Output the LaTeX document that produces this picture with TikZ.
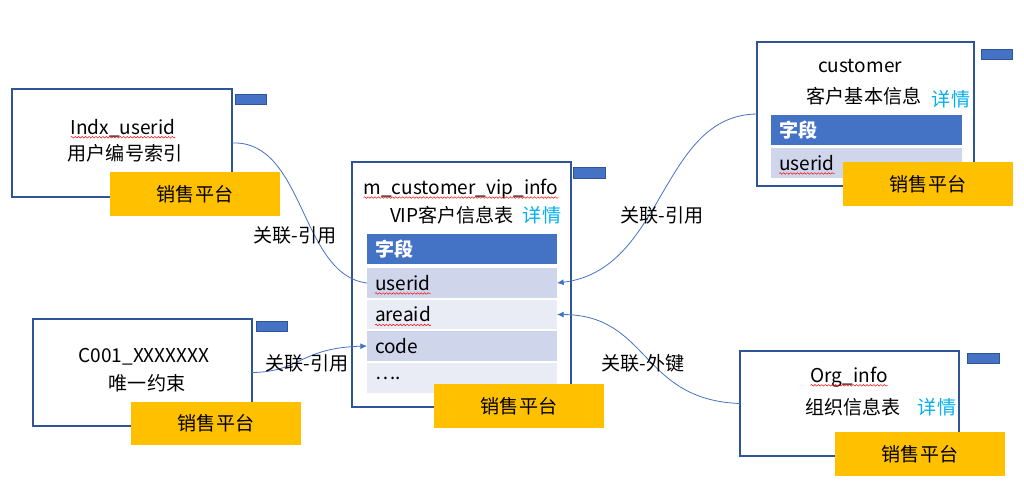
\documentclass[tikz,border=0pt]{standalone}
\usepackage{fontspec}
\setmainfont{Noto Sans CJK SC}
\usetikzlibrary{arrows.meta,decorations.pathmorphing,calc,fit}
\definecolor{boxline}{HTML}{2F5597}
\definecolor{accent}{HTML}{4472C4}
\definecolor{rowA}{HTML}{CFD5EA}
\definecolor{rowB}{HTML}{E9EBF5}
\definecolor{gold}{HTML}{FFC000}
\definecolor{detail}{HTML}{00B0F0}
\begin{document}
\begin{tikzpicture}[x=0.75pt,y=-0.75pt,
  every node/.style={font=\fontsize{14.3}{17}\selectfont, inner sep=0pt, outer sep=0pt},
  tablebox/.style={draw=boxline, line width=0.8pt, fill=white},
  tagbox/.style={fill=accent, draw=boxline, line width=0.4pt},
  platform/.style={fill=gold},
  headrow/.style={fill=accent},
  rowa/.style={fill=rowA},
  rowb/.style={fill=rowB},
  headtext/.style={text=white, font=\fontsize{14.3}{17}\selectfont\bfseries},
  detailtext/.style={text=detail},
  link/.style={draw=accent, line width=0.6pt},
  arrowlink/.style={link, -{Latex[length=5pt,width=4.5pt]}},
  squig/.style={draw=red, line width=0.35pt, decorate, decoration={snake, amplitude=0.6pt, segment length=2.6pt}}
]
\useasboundingbox (0,0) rectangle (1024,503);

% ---------- Indx_userid ----------
\node[tablebox, fit={(12,89)(232,197)}] (idx) {};
\node[tagbox, fit={(235,94)(266,104)}] (idxtag) {};
\node (idxname) at (123,128) {Indx\_userid};
\node (idxdesc) at (125,153) {用户编号索引};
\node[platform, fit={(110,172)(280,216)}] (idxplat) {};
\node at (idxplat.center) (idxplattext) {销售平台};

% ---------- central table ----------
\node[tablebox, fit={(352,162)(571,407)}] (main) {};
\node[tagbox, fit={(573,167)(605,178)}] (maintag) {};
\node (mainname) at (461,189) {m\_customer\_vip\_info};
\node (maindesc) at (452,215) {VIP客户信息表};
\node[detailtext] (maindetail) at (542,215) {详情};
\node[headrow, fit={(367,234)(557,264)}] (mhead) {};
\node[headtext, anchor=west] (mheadtext) at ($(mhead.west)+(8,0)$) {字段};
\node[rowa, fit={(367,268)(557,298)}] (muserid) {};
\node[anchor=west] (museridtext) at ($(muserid.west)+(8,0)$) {userid};
\node[rowb, fit={(367,300)(557,329)}] (mareaid) {};
\node[anchor=west] (mareaidtext) at ($(mareaid.west)+(8,0)$) {areaid};
\node[rowa, fit={(367,331)(557,361)}] (mcode) {};
\node[anchor=west] (mcodetext) at ($(mcode.west)+(8,0)$) {code};
\node[rowb, fit={(367,363)(557,393)}] (mmore) {};
\node[anchor=west] (mmoretext) at ($(mmore.west)+(8,0)$) {….};
\node[platform, fit={(434,384)(604,428)}] (mainplat) {};
\node at (mainplat.center) (mainplattext) {销售平台};

% ---------- customer ----------
\node[tablebox, fit={(757,42)(974,186)}] (cust) {};
\node[tagbox, fit={(981,49)(1012,59)}] (custtag) {};
\node (custname) at (860,66) {customer};
\node (custdesc) at (864,96) {客户基本信息};
\node[detailtext] (custdetail) at (951,99) {详情};
\node[headrow, fit={(771,115)(962,145)}] (chead) {};
\node[headtext, anchor=west] (cheadtext) at ($(chead.west)+(8,0)$) {字段};
\node[rowa, fit={(771,148)(962,178)}] (cuserid) {};
\node[anchor=west] (cuseridtext) at ($(cuserid.west)+(8,0)$) {userid};
\node[platform, fit={(843,162)(1013,206)}] (custplat) {};
\node at (custplat.center) (custplattext) {销售平台};

% ---------- C001 ----------
\node[tablebox, fit={(33,319)(252,426)}] (cons) {};
\node[tagbox, fit={(256,321)(287,331)}] (constag) {};
\node (consname) at (144,357) {C001\_XXXXXXX};
\node (consdesc) at (147,383) {唯一约束};
\node[platform, fit={(131,402)(301,445)}] (consplat) {};
\node at (consplat.center) (consplattext) {销售平台};

% ---------- Org_info ----------
\node[tablebox, fit={(740,351)(959,456)}] (org) {};
\node[tagbox, fit={(967,353)(999,363)}] (orgtag) {};
\node (orgname) at (849,377) {Org\_info};
\node (orgdesc) at (853,407) {组织信息表};
\node[detailtext] (orgdetail) at (937,407) {详情};
\node[platform, fit={(835,432)(1005,476)}] (orgplat) {};
\node at (orgplat.center) (orgplattext) {销售平台};

% ---------- spell-check underlines ----------
\foreach \t in {idxname, mainname, museridtext, mareaidtext, cuseridtext, orgname}
  \draw[squig] ($(\t.base west)+(0,3)$) -- ($(\t.base east)+(0,3)$);

% ---------- connectors ----------
\draw[link] (idx.east) .. controls (305,140) and (300,275) .. (muserid.west);
\draw[arrowlink] (cust.west) .. controls (660,115) and (665,270) .. (muserid.east);
\draw[arrowlink] (org.west) .. controls (640,400) and (650,315) .. (mareaid.east);
\draw[arrowlink] (cons.east) .. controls (300,372) and (300,348) .. (mcode.west);

% ---------- connector labels ----------
\node (lbl1) at (295,235) {关联-引用};
\node (lbl2) at (662,215) {关联-引用};
\node (lbl3) at (307,363) {关联-引用};
\node (lbl4) at (643,363) {关联-外键};
\end{tikzpicture}
\end{document}
